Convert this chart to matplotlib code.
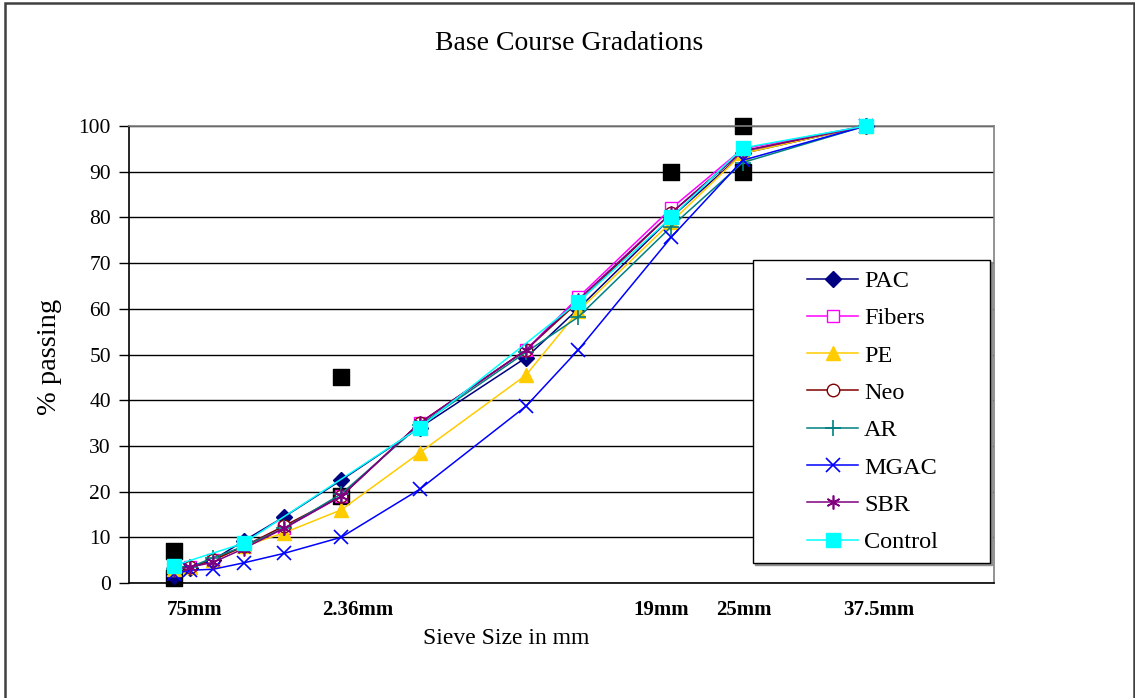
import matplotlib
matplotlib.use('Agg')
import matplotlib.pyplot as plt
import numpy as np
from matplotlib.patches import Rectangle

plt.rcParams['font.family'] = ['Liberation Serif', 'DejaVu Serif']

# sieve sizes (mm)
sieves = [0.075, 0.15, 0.3, 0.6, 1.18, 2.36, 4.75, 9.5, 12.5, 19, 25, 37.5]
control_sieves = [0.075, 0.6, 4.75, 12.5, 19, 25, 37.5]

pac = [1.5, 3.3, 5.0, 9.2, 14.5, 22.5, 34.0, 49.3, 60.0, 80.0, 94.0, 100]
fibers = [3.5, 3.6, 5.0, 8.0, 12.0, 19.0, 35.0, 51.0, 62.5, 82.0, 95.0, 100]
pe = [3.0, 3.5, 5.0, 8.0, 11.0, 16.0, 28.5, 45.5, 59.5, 79.0, 94.0, 100]
neo = [3.5, 3.5, 5.0, 8.0, 12.5, 19.0, 35.0, 51.0, 61.5, 81.0, 94.5, 100]
ar = [3.0, 3.5, 5.5, 8.0, 12.0, 19.5, 34.5, 50.5, 58.2, 78.0, 92.0, 100]
mgac = [2.0, 2.8, 3.0, 4.4, 6.5, 10.0, 20.5, 38.7, 51.0, 75.7, 92.5, 100]
sbr = [3.0, 3.5, 4.5, 7.5, 12.0, 19.0, 35.0, 51.0, 62.0, 81.0, 94.5, 100]
control = [3.8, 8.7, 34.0, 61.5, 80.0, 95.2, 100]

# Superpave control points (25 mm nominal)
cp_sieve = [0.075, 0.075, 2.36, 2.36, 19, 25, 25]
cp_pass = [1, 7, 19, 45, 90, 90, 100]

series_names = ["PAC", "Fibers", "PE", "Neo", "AR", "MGAC", "SBR", "Control"]
series_vals = [pac, fibers, pe, neo, ar, mgac, sbr, control]

# bottom labels, placed in 0.45-power units
xlabel_text = ["75mm", "2.36mm", "19mm", "25mm", "37.5mm"]
xlabel_pos = [0.458, 1.589, 3.692, 4.268, 5.198]

POW = 0.45

styles = {
    "PAC": dict(color="#000080", marker="D", mfc="#000080", mec="#000080", ms=8),
    "Fibers": dict(color="#FF00FF", marker="s", mfc="white", mec="#FF00FF", ms=9),
    "PE": dict(color="#FFCC00", marker="^", mfc="#FFCC00", mec="#FFCC00", ms=10),
    "Neo": dict(color="#800000", marker="o", mfc="white", mec="#800000", ms=9),
    "AR": dict(color="#008080", marker="+", mfc="#008080", mec="#008080", ms=11, mew=1.2),
    "MGAC": dict(color="#0000FF", marker="x", mfc="#0000FF", mec="#0000FF", ms=10, mew=1.2),
    "SBR": dict(color="#800080", marker=(6, 2, 0), mfc="#800080", mec="#800080", ms=10, mew=1.2),
    "Control": dict(color="#00FFFF", marker="s", mfc="#00FFFF", mec="#00FFFF", ms=10),
}


def fwd(x):
    return np.power(np.clip(x, 0, None), POW)


def inv(x):
    return np.power(np.clip(x, 0, None), 1 / POW)


W, H = 1135, 698
fig = plt.figure(figsize=(W / 100, H / 100), dpi=100)
fig.patches.append(Rectangle((5 / W, -0.01), (1134 - 5) / W, 1 - 3 / H + 0.01,
                             transform=fig.transFigure, fill=False,
                             edgecolor="#404040", linewidth=1.8))

ax = fig.add_axes([129 / W, (H - 583) / H, (994 - 129) / W, (583 - 126) / H])
ax.set_xscale("function", functions=(fwd, inv))
ax.set_xlim(0, inv(6.0))
ax.set_ylim(0, 100)

ax.scatter(cp_sieve, cp_pass, marker="s", s=120, color="black", zorder=2, clip_on=False)

for name, vals in zip(series_names, series_vals):
    st = styles[name]
    xs = control_sieves if name == "Control" else sieves
    ax.plot(xs, vals, linewidth=1.1, label=name, zorder=3, clip_on=False,
            color=st["color"], marker=st["marker"], markerfacecolor=st["mfc"],
            markeredgecolor=st["mec"], markersize=st["ms"],
            markeredgewidth=st.get("mew", 1.0))

ax.set_yticks(np.arange(0, 101, 10))
ax.yaxis.grid(True, color="black", linewidth=1.0)
ax.set_axisbelow(True)
ax.tick_params(axis="y", labelsize=15.5, length=7, width=1, direction="out", pad=6)

ax.set_xticks(inv(np.array(xlabel_pos)))
ax.set_xticklabels(xlabel_text, fontsize=15, fontweight="bold")
ax.tick_params(axis="x", length=0, pad=12)

for side in ["left", "bottom"]:
    ax.spines[side].set_color("black")
    ax.spines[side].set_linewidth(1.2)
for side in ["top", "right"]:
    ax.spines[side].set_color("#808080")
    ax.spines[side].set_linewidth(1.2)

fig.text(50 / W, 1 - 357 / H, "% passing", fontsize=20.5, rotation=90,
         ha="center", va="center")
fig.text(506 / W, 1 - 638 / H, "Sieve Size in mm", fontsize=17,
         ha="center", va="center")
fig.text(569 / W, 1 - 44 / H, "Base Course Gradations", fontsize=20,
         ha="center", va="center")

# legend frame with a soft shadow, entries placed inside
fig.patches.append(Rectangle((755 / W, 1 - 565 / H), (990 - 753) / W, (563 - 260) / H,
                             transform=fig.transFigure, fill=True, facecolor="#909090",
                             edgecolor="#909090", linewidth=1.0, zorder=4))
fig.patches.append(Rectangle((753 / W, 1 - 563 / H), (990 - 753) / W, (563 - 260) / H,
                             transform=fig.transFigure, fill=True, facecolor="white",
                             edgecolor="black", linewidth=1.0, zorder=5))
leg = fig.legend(loc="upper left", bbox_to_anchor=(807 / W, 1 - 270 / H),
                 fontsize=17.5, frameon=False, borderpad=0, labelspacing=0.63,
                 handlelength=2.1, handletextpad=0.25, borderaxespad=0)
leg.set_zorder(6)

fig.savefig("out.png", dpi=100)
